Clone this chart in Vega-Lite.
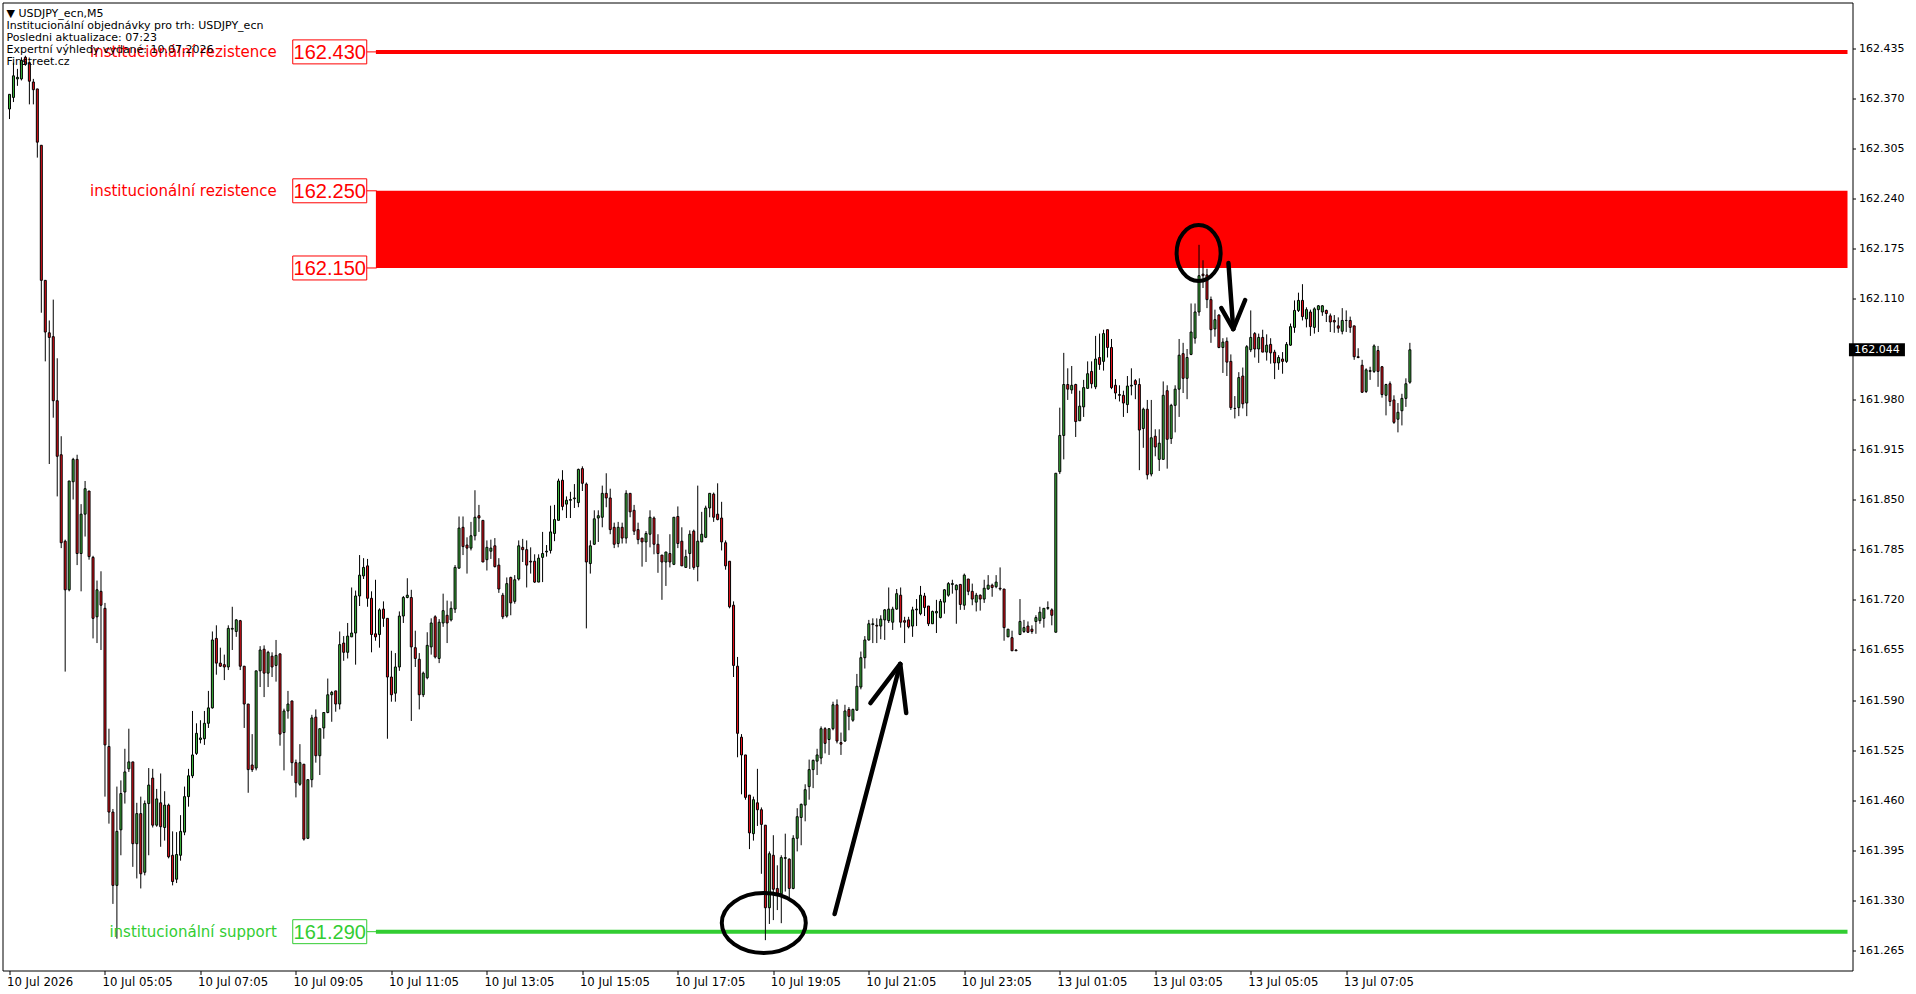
{
"$schema": "https://vega.github.io/schema/vega-lite/v6.json",
"autosize": {"type": "none"},
"width": 1850, "height": 968,
"padding": {"left": 2.5, "top": 2.5, "right": 63.5, "bottom": 23.5},
"background": "#ffffff",
"config": {"view": {"stroke": "#000000", "strokeWidth": 1}, "axis": {"grid": false, "domain": false, "tickColor": "#000000", "labelColor": "#000000"}},
"title": {"text": ["▼  USDJPY_ecn,M5", "Institucionální objednávky pro trh: USDJPY_ecn", "Posledni aktualizace: 07:23", "Expertní výhledy vydané: 10.07.2026", "Finstreet.cz"], "anchor": "start", "frame": "group", "orient": "top", "offset": -64, "baseline": "top", "dx": 4, "font": "DejaVu Sans", "fontSize": 11, "fontWeight": "normal", "color": "#000000", "lineHeight": 12},
"datasets": {
"candles": [
{"i":0,"o":162.356,"h":162.375,"l":162.343,"c":162.375},
{"i":1,"o":162.371,"h":162.416,"l":162.365,"c":162.399},
{"i":2,"o":162.395,"h":162.408,"l":162.386,"c":162.397},
{"i":3,"o":162.395,"h":162.423,"l":162.393,"c":162.419},
{"i":4,"o":162.423,"h":162.425,"l":162.412,"c":162.414},
{"i":5,"o":162.416,"h":162.417,"l":162.362,"c":162.392},
{"i":6,"o":162.391,"h":162.395,"l":162.362,"c":162.381},
{"i":7,"o":162.382,"h":162.382,"l":162.293,"c":162.313},
{"i":8,"o":162.309,"h":162.309,"l":162.092,"c":162.134},
{"i":9,"o":162.134,"h":162.134,"l":162.029,"c":162.067},
{"i":10,"o":162.066,"h":162.082,"l":161.896,"c":162.060},
{"i":11,"o":162.061,"h":162.109,"l":161.956,"c":161.978},
{"i":12,"o":161.978,"h":162.033,"l":161.854,"c":161.906},
{"i":13,"o":161.908,"h":161.932,"l":161.787,"c":161.794},
{"i":14,"o":161.796,"h":161.798,"l":161.627,"c":161.733},
{"i":15,"o":161.733,"h":161.874,"l":161.731,"c":161.874},
{"i":16,"o":161.873,"h":161.904,"l":161.850,"c":161.902},
{"i":17,"o":161.902,"h":161.908,"l":161.765,"c":161.780},
{"i":18,"o":161.780,"h":161.844,"l":161.731,"c":161.831},
{"i":19,"o":161.831,"h":161.874,"l":161.802,"c":161.864},
{"i":20,"o":161.861,"h":161.861,"l":161.772,"c":161.776},
{"i":21,"o":161.775,"h":161.777,"l":161.670,"c":161.696},
{"i":22,"o":161.698,"h":161.745,"l":161.664,"c":161.733},
{"i":23,"o":161.731,"h":161.757,"l":161.655,"c":161.713},
{"i":24,"o":161.709,"h":161.716,"l":161.465,"c":161.532},
{"i":25,"o":161.530,"h":161.553,"l":161.430,"c":161.445},
{"i":26,"o":161.445,"h":161.449,"l":161.326,"c":161.350},
{"i":27,"o":161.350,"h":161.478,"l":161.281,"c":161.420},
{"i":28,"o":161.422,"h":161.486,"l":161.389,"c":161.469},
{"i":29,"o":161.471,"h":161.527,"l":161.456,"c":161.497},
{"i":30,"o":161.501,"h":161.553,"l":161.497,"c":161.510},
{"i":31,"o":161.510,"h":161.510,"l":161.374,"c":161.404},
{"i":32,"o":161.404,"h":161.457,"l":161.359,"c":161.443},
{"i":33,"o":161.443,"h":161.465,"l":161.346,"c":161.365},
{"i":34,"o":161.367,"h":161.460,"l":161.363,"c":161.456},
{"i":35,"o":161.456,"h":161.502,"l":161.389,"c":161.480},
{"i":36,"o":161.489,"h":161.501,"l":161.425,"c":161.428},
{"i":37,"o":161.428,"h":161.475,"l":161.426,"c":161.462},
{"i":38,"o":161.457,"h":161.495,"l":161.400,"c":161.426},
{"i":39,"o":161.425,"h":161.472,"l":161.408,"c":161.454},
{"i":40,"o":161.454,"h":161.456,"l":161.385,"c":161.387},
{"i":41,"o":161.389,"h":161.420,"l":161.350,"c":161.355},
{"i":42,"o":161.358,"h":161.419,"l":161.353,"c":161.390},
{"i":43,"o":161.389,"h":161.441,"l":161.382,"c":161.420},
{"i":44,"o":161.419,"h":161.478,"l":161.415,"c":161.465},
{"i":45,"o":161.465,"h":161.501,"l":161.452,"c":161.492},
{"i":46,"o":161.492,"h":161.576,"l":161.489,"c":161.519},
{"i":47,"o":161.521,"h":161.560,"l":161.519,"c":161.547},
{"i":48,"o":161.539,"h":161.564,"l":161.534,"c":161.541},
{"i":49,"o":161.540,"h":161.576,"l":161.532,"c":161.560},
{"i":50,"o":161.560,"h":161.602,"l":161.554,"c":161.580},
{"i":51,"o":161.580,"h":161.679,"l":161.579,"c":161.668},
{"i":52,"o":161.670,"h":161.687,"l":161.623,"c":161.638},
{"i":53,"o":161.638,"h":161.658,"l":161.633,"c":161.634},
{"i":54,"o":161.636,"h":161.649,"l":161.616,"c":161.633},
{"i":55,"o":161.633,"h":161.687,"l":161.629,"c":161.683},
{"i":56,"o":161.682,"h":161.711,"l":161.655,"c":161.683},
{"i":57,"o":161.679,"h":161.695,"l":161.672,"c":161.694},
{"i":58,"o":161.693,"h":161.694,"l":161.629,"c":161.634},
{"i":59,"o":161.634,"h":161.634,"l":161.554,"c":161.585},
{"i":60,"o":161.585,"h":161.585,"l":161.470,"c":161.500},
{"i":61,"o":161.506,"h":161.546,"l":161.497,"c":161.500},
{"i":62,"o":161.502,"h":161.628,"l":161.499,"c":161.628},
{"i":63,"o":161.628,"h":161.660,"l":161.607,"c":161.655},
{"i":64,"o":161.656,"h":161.661,"l":161.594,"c":161.625},
{"i":65,"o":161.625,"h":161.654,"l":161.607,"c":161.652},
{"i":66,"o":161.647,"h":161.652,"l":161.620,"c":161.633},
{"i":67,"o":161.635,"h":161.668,"l":161.614,"c":161.648},
{"i":68,"o":161.650,"h":161.650,"l":161.531,"c":161.546},
{"i":69,"o":161.548,"h":161.579,"l":161.499,"c":161.576},
{"i":70,"o":161.576,"h":161.602,"l":161.566,"c":161.585},
{"i":71,"o":161.589,"h":161.589,"l":161.492,"c":161.509},
{"i":72,"o":161.509,"h":161.513,"l":161.464,"c":161.483},
{"i":73,"o":161.481,"h":161.533,"l":161.479,"c":161.509},
{"i":74,"o":161.507,"h":161.507,"l":161.408,"c":161.410},
{"i":75,"o":161.411,"h":161.487,"l":161.410,"c":161.487},
{"i":76,"o":161.487,"h":161.571,"l":161.477,"c":161.567},
{"i":77,"o":161.568,"h":161.578,"l":161.509,"c":161.518},
{"i":78,"o":161.518,"h":161.553,"l":161.493,"c":161.553},
{"i":79,"o":161.554,"h":161.574,"l":161.540,"c":161.574},
{"i":80,"o":161.574,"h":161.618,"l":161.573,"c":161.597},
{"i":81,"o":161.597,"h":161.602,"l":161.562,"c":161.600},
{"i":82,"o":161.602,"h":161.602,"l":161.575,"c":161.585},
{"i":83,"o":161.585,"h":161.679,"l":161.578,"c":161.662},
{"i":84,"o":161.664,"h":161.673,"l":161.641,"c":161.652},
{"i":85,"o":161.652,"h":161.690,"l":161.644,"c":161.673},
{"i":86,"o":161.672,"h":161.736,"l":161.672,"c":161.677},
{"i":87,"o":161.677,"h":161.732,"l":161.636,"c":161.725},
{"i":88,"o":161.725,"h":161.778,"l":161.712,"c":161.752},
{"i":89,"o":161.751,"h":161.774,"l":161.747,"c":161.762},
{"i":90,"o":161.764,"h":161.773,"l":161.711,"c":161.722},
{"i":91,"o":161.722,"h":161.731,"l":161.652,"c":161.675},
{"i":92,"o":161.676,"h":161.746,"l":161.667,"c":161.672},
{"i":93,"o":161.675,"h":161.709,"l":161.658,"c":161.707},
{"i":94,"o":161.708,"h":161.718,"l":161.685,"c":161.696},
{"i":95,"o":161.696,"h":161.696,"l":161.540,"c":161.620},
{"i":96,"o":161.620,"h":161.654,"l":161.588,"c":161.597},
{"i":97,"o":161.599,"h":161.651,"l":161.588,"c":161.633},
{"i":98,"o":161.633,"h":161.705,"l":161.628,"c":161.699},
{"i":99,"o":161.699,"h":161.725,"l":161.690,"c":161.723},
{"i":100,"o":161.723,"h":161.748,"l":161.722,"c":161.726},
{"i":101,"o":161.723,"h":161.733,"l":161.563,"c":161.659},
{"i":102,"o":161.658,"h":161.680,"l":161.633,"c":161.644},
{"i":103,"o":161.643,"h":161.651,"l":161.578,"c":161.597},
{"i":104,"o":161.597,"h":161.627,"l":161.594,"c":161.625},
{"i":105,"o":161.619,"h":161.678,"l":161.617,"c":161.661},
{"i":106,"o":161.659,"h":161.696,"l":161.649,"c":161.690},
{"i":107,"o":161.698,"h":161.700,"l":161.644,"c":161.646},
{"i":108,"o":161.644,"h":161.695,"l":161.638,"c":161.691},
{"i":109,"o":161.690,"h":161.728,"l":161.685,"c":161.706},
{"i":110,"o":161.700,"h":161.719,"l":161.664,"c":161.690},
{"i":111,"o":161.694,"h":161.718,"l":161.692,"c":161.709},
{"i":112,"o":161.708,"h":161.765,"l":161.703,"c":161.762},
{"i":113,"o":161.761,"h":161.828,"l":161.761,"c":161.813},
{"i":114,"o":161.814,"h":161.828,"l":161.778,"c":161.789},
{"i":115,"o":161.791,"h":161.801,"l":161.754,"c":161.787},
{"i":116,"o":161.787,"h":161.821,"l":161.784,"c":161.803},
{"i":117,"o":161.803,"h":161.862,"l":161.797,"c":161.827},
{"i":118,"o":161.829,"h":161.843,"l":161.808,"c":161.826},
{"i":119,"o":161.823,"h":161.823,"l":161.769,"c":161.769},
{"i":120,"o":161.772,"h":161.797,"l":161.758,"c":161.788},
{"i":121,"o":161.783,"h":161.798,"l":161.773,"c":161.787},
{"i":122,"o":161.790,"h":161.800,"l":161.762,"c":161.763},
{"i":123,"o":161.765,"h":161.774,"l":161.729,"c":161.734},
{"i":124,"o":161.726,"h":161.729,"l":161.695,"c":161.698},
{"i":125,"o":161.699,"h":161.749,"l":161.697,"c":161.741},
{"i":126,"o":161.749,"h":161.750,"l":161.700,"c":161.716},
{"i":127,"o":161.718,"h":161.752,"l":161.715,"c":161.746},
{"i":128,"o":161.747,"h":161.797,"l":161.745,"c":161.790},
{"i":129,"o":161.788,"h":161.799,"l":161.769,"c":161.785},
{"i":130,"o":161.785,"h":161.797,"l":161.736,"c":161.765},
{"i":131,"o":161.770,"h":161.788,"l":161.754,"c":161.769},
{"i":132,"o":161.770,"h":161.779,"l":161.742,"c":161.743},
{"i":133,"o":161.743,"h":161.779,"l":161.743,"c":161.774},
{"i":134,"o":161.775,"h":161.808,"l":161.743,"c":161.780},
{"i":135,"o":161.782,"h":161.791,"l":161.776,"c":161.783},
{"i":136,"o":161.784,"h":161.842,"l":161.780,"c":161.808},
{"i":137,"o":161.806,"h":161.843,"l":161.796,"c":161.824},
{"i":138,"o":161.823,"h":161.877,"l":161.823,"c":161.874},
{"i":139,"o":161.875,"h":161.888,"l":161.836,"c":161.841},
{"i":140,"o":161.844,"h":161.854,"l":161.826,"c":161.849},
{"i":141,"o":161.849,"h":161.860,"l":161.826,"c":161.850},
{"i":142,"o":161.851,"h":161.870,"l":161.839,"c":161.852},
{"i":143,"o":161.846,"h":161.890,"l":161.840,"c":161.889},
{"i":144,"o":161.890,"h":161.893,"l":161.861,"c":161.871},
{"i":145,"o":161.870,"h":161.872,"l":161.683,"c":161.769},
{"i":146,"o":161.767,"h":161.797,"l":161.754,"c":161.790},
{"i":147,"o":161.792,"h":161.836,"l":161.791,"c":161.825},
{"i":148,"o":161.826,"h":161.836,"l":161.795,"c":161.829},
{"i":149,"o":161.827,"h":161.868,"l":161.814,"c":161.858},
{"i":150,"o":161.858,"h":161.884,"l":161.840,"c":161.852},
{"i":151,"o":161.852,"h":161.864,"l":161.805,"c":161.811},
{"i":152,"o":161.814,"h":161.820,"l":161.787,"c":161.792},
{"i":153,"o":161.793,"h":161.821,"l":161.788,"c":161.814},
{"i":154,"o":161.814,"h":161.820,"l":161.793,"c":161.800},
{"i":155,"o":161.800,"h":161.862,"l":161.793,"c":161.858},
{"i":156,"o":161.858,"h":161.858,"l":161.827,"c":161.834},
{"i":157,"o":161.836,"h":161.843,"l":161.804,"c":161.809},
{"i":158,"o":161.811,"h":161.820,"l":161.792,"c":161.798},
{"i":159,"o":161.800,"h":161.800,"l":161.763,"c":161.795},
{"i":160,"o":161.795,"h":161.809,"l":161.769,"c":161.806},
{"i":161,"o":161.805,"h":161.836,"l":161.788,"c":161.827},
{"i":162,"o":161.826,"h":161.828,"l":161.779,"c":161.792},
{"i":163,"o":161.792,"h":161.805,"l":161.755,"c":161.780},
{"i":164,"o":161.778,"h":161.778,"l":161.720,"c":161.769},
{"i":165,"o":161.769,"h":161.782,"l":161.738,"c":161.782},
{"i":166,"o":161.780,"h":161.805,"l":161.762,"c":161.769},
{"i":167,"o":161.766,"h":161.827,"l":161.765,"c":161.827},
{"i":168,"o":161.828,"h":161.841,"l":161.787,"c":161.793},
{"i":169,"o":161.796,"h":161.814,"l":161.764,"c":161.764},
{"i":170,"o":161.762,"h":161.785,"l":161.762,"c":161.776},
{"i":171,"o":161.780,"h":161.810,"l":161.760,"c":161.805},
{"i":172,"o":161.809,"h":161.811,"l":161.759,"c":161.762},
{"i":173,"o":161.763,"h":161.868,"l":161.744,"c":161.796},
{"i":174,"o":161.795,"h":161.834,"l":161.795,"c":161.805},
{"i":175,"o":161.801,"h":161.842,"l":161.800,"c":161.839},
{"i":176,"o":161.839,"h":161.858,"l":161.827,"c":161.858},
{"i":177,"o":161.857,"h":161.859,"l":161.821,"c":161.827},
{"i":178,"o":161.831,"h":161.871,"l":161.823,"c":161.824},
{"i":179,"o":161.826,"h":161.847,"l":161.784,"c":161.795},
{"i":180,"o":161.794,"h":161.797,"l":161.759,"c":161.764},
{"i":181,"o":161.770,"h":161.770,"l":161.709,"c":161.711},
{"i":182,"o":161.713,"h":161.718,"l":161.620,"c":161.635},
{"i":183,"o":161.634,"h":161.646,"l":161.516,"c":161.547},
{"i":184,"o":161.542,"h":161.546,"l":161.468,"c":161.519},
{"i":185,"o":161.519,"h":161.519,"l":161.461,"c":161.464},
{"i":186,"o":161.467,"h":161.467,"l":161.397,"c":161.418},
{"i":187,"o":161.417,"h":161.465,"l":161.408,"c":161.461},
{"i":188,"o":161.457,"h":161.501,"l":161.427,"c":161.448},
{"i":189,"o":161.448,"h":161.451,"l":161.365,"c":161.429},
{"i":190,"o":161.428,"h":161.428,"l":161.279,"c":161.321},
{"i":191,"o":161.321,"h":161.394,"l":161.300,"c":161.391},
{"i":192,"o":161.389,"h":161.415,"l":161.305,"c":161.345},
{"i":193,"o":161.346,"h":161.376,"l":161.318,"c":161.340},
{"i":194,"o":161.339,"h":161.389,"l":161.301,"c":161.386},
{"i":195,"o":161.385,"h":161.417,"l":161.342,"c":161.386},
{"i":196,"o":161.384,"h":161.385,"l":161.333,"c":161.346},
{"i":197,"o":161.346,"h":161.415,"l":161.345,"c":161.411},
{"i":198,"o":161.411,"h":161.450,"l":161.394,"c":161.439},
{"i":199,"o":161.438,"h":161.456,"l":161.402,"c":161.455},
{"i":200,"o":161.454,"h":161.481,"l":161.433,"c":161.474},
{"i":201,"o":161.478,"h":161.513,"l":161.461,"c":161.500},
{"i":202,"o":161.500,"h":161.513,"l":161.476,"c":161.512},
{"i":203,"o":161.511,"h":161.527,"l":161.493,"c":161.519},
{"i":204,"o":161.515,"h":161.556,"l":161.507,"c":161.553},
{"i":205,"o":161.553,"h":161.555,"l":161.521,"c":161.534},
{"i":206,"o":161.539,"h":161.553,"l":161.519,"c":161.553},
{"i":207,"o":161.553,"h":161.588,"l":161.551,"c":161.584},
{"i":208,"o":161.584,"h":161.591,"l":161.534,"c":161.537},
{"i":209,"o":161.535,"h":161.548,"l":161.519,"c":161.533},
{"i":210,"o":161.537,"h":161.584,"l":161.536,"c":161.576},
{"i":211,"o":161.578,"h":161.581,"l":161.551,"c":161.569},
{"i":212,"o":161.564,"h":161.579,"l":161.562,"c":161.578},
{"i":213,"o":161.577,"h":161.624,"l":161.576,"c":161.608},
{"i":214,"o":161.607,"h":161.653,"l":161.604,"c":161.645},
{"i":215,"o":161.645,"h":161.673,"l":161.631,"c":161.668},
{"i":216,"o":161.668,"h":161.694,"l":161.667,"c":161.689},
{"i":217,"o":161.688,"h":161.696,"l":161.664,"c":161.689},
{"i":218,"o":161.687,"h":161.696,"l":161.664,"c":161.686},
{"i":219,"o":161.686,"h":161.700,"l":161.669,"c":161.695},
{"i":220,"o":161.694,"h":161.708,"l":161.668,"c":161.707},
{"i":221,"o":161.693,"h":161.736,"l":161.690,"c":161.708},
{"i":222,"o":161.691,"h":161.711,"l":161.681,"c":161.708},
{"i":223,"o":161.708,"h":161.734,"l":161.707,"c":161.728},
{"i":224,"o":161.726,"h":161.736,"l":161.684,"c":161.691},
{"i":225,"o":161.693,"h":161.698,"l":161.664,"c":161.691},
{"i":226,"o":161.694,"h":161.698,"l":161.683,"c":161.685},
{"i":227,"o":161.686,"h":161.711,"l":161.672,"c":161.707},
{"i":228,"o":161.707,"h":161.721,"l":161.686,"c":161.708},
{"i":229,"o":161.702,"h":161.738,"l":161.700,"c":161.726},
{"i":230,"o":161.725,"h":161.729,"l":161.699,"c":161.710},
{"i":231,"o":161.712,"h":161.712,"l":161.686,"c":161.689},
{"i":232,"o":161.689,"h":161.706,"l":161.689,"c":161.705},
{"i":233,"o":161.703,"h":161.720,"l":161.677,"c":161.705},
{"i":234,"o":161.697,"h":161.721,"l":161.696,"c":161.718},
{"i":235,"o":161.717,"h":161.734,"l":161.702,"c":161.733},
{"i":236,"o":161.726,"h":161.743,"l":161.724,"c":161.741},
{"i":237,"o":161.740,"h":161.746,"l":161.728,"c":161.741},
{"i":238,"o":161.733,"h":161.740,"l":161.689,"c":161.739},
{"i":239,"o":161.740,"h":161.740,"l":161.707,"c":161.714},
{"i":240,"o":161.713,"h":161.754,"l":161.707,"c":161.752},
{"i":241,"o":161.747,"h":161.747,"l":161.726,"c":161.731},
{"i":242,"o":161.731,"h":161.741,"l":161.713,"c":161.721},
{"i":243,"o":161.717,"h":161.729,"l":161.705,"c":161.726},
{"i":244,"o":161.726,"h":161.727,"l":161.706,"c":161.721},
{"i":245,"o":161.721,"h":161.746,"l":161.716,"c":161.735},
{"i":246,"o":161.734,"h":161.752,"l":161.733,"c":161.739},
{"i":247,"o":161.739,"h":161.741,"l":161.724,"c":161.736},
{"i":248,"o":161.737,"h":161.752,"l":161.735,"c":161.743},
{"i":249,"o":161.735,"h":161.762,"l":161.732,"c":161.734},
{"i":250,"o":161.734,"h":161.734,"l":161.667,"c":161.684},
{"i":251,"o":161.672,"h":161.682,"l":161.672,"c":161.682},
{"i":252,"o":161.671,"h":161.680,"l":161.654,"c":161.654},
{"i":253,"o":161.655,"h":161.656,"l":161.654,"c":161.654},
{"i":254,"o":161.675,"h":161.721,"l":161.675,"c":161.692},
{"i":255,"o":161.679,"h":161.694,"l":161.677,"c":161.684},
{"i":256,"o":161.686,"h":161.692,"l":161.677,"c":161.678},
{"i":257,"o":161.682,"h":161.687,"l":161.676,"c":161.679},
{"i":258,"o":161.692,"h":161.700,"l":161.676,"c":161.697},
{"i":259,"o":161.693,"h":161.711,"l":161.689,"c":161.704},
{"i":260,"o":161.696,"h":161.709,"l":161.684,"c":161.709},
{"i":261,"o":161.709,"h":161.718,"l":161.707,"c":161.710},
{"i":262,"o":161.707,"h":161.709,"l":161.687,"c":161.700},
{"i":263,"o":161.678,"h":161.884,"l":161.678,"c":161.884},
{"i":264,"o":161.886,"h":161.969,"l":161.883,"c":161.933},
{"i":265,"o":161.933,"h":162.040,"l":161.902,"c":161.999},
{"i":266,"o":161.999,"h":162.020,"l":161.979,"c":161.993},
{"i":267,"o":161.992,"h":162.023,"l":161.987,"c":161.998},
{"i":268,"o":161.999,"h":162.000,"l":161.931,"c":161.951},
{"i":269,"o":161.952,"h":161.991,"l":161.952,"c":161.971},
{"i":270,"o":161.970,"h":162.005,"l":161.957,"c":161.995},
{"i":271,"o":161.994,"h":162.029,"l":161.994,"c":162.013},
{"i":272,"o":162.016,"h":162.029,"l":161.994,"c":162.000},
{"i":273,"o":161.996,"h":162.062,"l":161.993,"c":162.032},
{"i":274,"o":162.034,"h":162.065,"l":162.018,"c":162.025},
{"i":275,"o":162.029,"h":162.070,"l":162.017,"c":162.065},
{"i":276,"o":162.070,"h":162.070,"l":162.034,"c":162.047},
{"i":277,"o":162.047,"h":162.058,"l":161.993,"c":161.995},
{"i":278,"o":161.998,"h":162.006,"l":161.980,"c":161.988},
{"i":279,"o":161.986,"h":161.998,"l":161.977,"c":161.985},
{"i":280,"o":161.985,"h":161.991,"l":161.957,"c":161.975},
{"i":281,"o":161.973,"h":162.010,"l":161.962,"c":161.997},
{"i":282,"o":161.997,"h":162.020,"l":161.985,"c":161.998},
{"i":283,"o":162.004,"h":162.006,"l":161.980,"c":161.999},
{"i":284,"o":161.999,"h":162.007,"l":161.888,"c":161.940},
{"i":285,"o":161.942,"h":161.969,"l":161.917,"c":161.967},
{"i":286,"o":161.967,"h":161.979,"l":161.876,"c":161.882},
{"i":287,"o":161.883,"h":161.979,"l":161.880,"c":161.930},
{"i":288,"o":161.932,"h":161.941,"l":161.906,"c":161.918},
{"i":289,"o":161.902,"h":161.941,"l":161.887,"c":161.923},
{"i":290,"o":161.902,"h":162.003,"l":161.902,"c":161.985},
{"i":291,"o":161.991,"h":161.998,"l":161.890,"c":161.928},
{"i":292,"o":161.929,"h":161.974,"l":161.922,"c":161.972},
{"i":293,"o":161.972,"h":161.998,"l":161.937,"c":161.993},
{"i":294,"o":161.993,"h":162.058,"l":161.957,"c":162.037},
{"i":295,"o":162.039,"h":162.053,"l":161.988,"c":162.007},
{"i":296,"o":162.007,"h":162.045,"l":161.980,"c":162.034},
{"i":297,"o":162.038,"h":162.104,"l":162.037,"c":162.067},
{"i":298,"o":162.059,"h":162.104,"l":162.052,"c":162.093},
{"i":299,"o":162.093,"h":162.180,"l":162.088,"c":162.140},
{"i":300,"o":162.142,"h":162.160,"l":162.124,"c":162.140},
{"i":301,"o":162.141,"h":162.149,"l":162.098,"c":162.109},
{"i":302,"o":162.109,"h":162.113,"l":162.053,"c":162.070},
{"i":303,"o":162.071,"h":162.096,"l":162.061,"c":162.083},
{"i":304,"o":162.089,"h":162.090,"l":162.046,"c":162.047},
{"i":305,"o":162.047,"h":162.059,"l":162.014,"c":162.054},
{"i":306,"o":162.055,"h":162.060,"l":162.010,"c":162.028},
{"i":307,"o":162.029,"h":162.038,"l":161.966,"c":161.969},
{"i":308,"o":161.968,"h":161.984,"l":161.955,"c":161.968},
{"i":309,"o":161.969,"h":162.015,"l":161.958,"c":162.008},
{"i":310,"o":162.010,"h":162.021,"l":161.968,"c":161.974},
{"i":311,"o":161.975,"h":162.050,"l":161.958,"c":162.048},
{"i":312,"o":162.044,"h":162.095,"l":162.041,"c":162.060},
{"i":313,"o":162.065,"h":162.067,"l":162.034,"c":162.045},
{"i":314,"o":162.045,"h":162.065,"l":162.027,"c":162.060},
{"i":315,"o":162.060,"h":162.070,"l":162.041,"c":162.041},
{"i":316,"o":162.041,"h":162.064,"l":162.030,"c":162.050},
{"i":317,"o":162.051,"h":162.059,"l":162.026,"c":162.040},
{"i":318,"o":162.041,"h":162.044,"l":162.006,"c":162.027},
{"i":319,"o":162.027,"h":162.037,"l":162.018,"c":162.034},
{"i":320,"o":162.032,"h":162.041,"l":162.013,"c":162.029},
{"i":321,"o":162.029,"h":162.054,"l":162.027,"c":162.051},
{"i":322,"o":162.050,"h":162.078,"l":162.049,"c":162.074},
{"i":323,"o":162.073,"h":162.108,"l":162.066,"c":162.095},
{"i":324,"o":162.095,"h":162.118,"l":162.093,"c":162.108},
{"i":325,"o":162.108,"h":162.129,"l":162.082,"c":162.087},
{"i":326,"o":162.084,"h":162.099,"l":162.073,"c":162.096},
{"i":327,"o":162.093,"h":162.096,"l":162.062,"c":162.074},
{"i":328,"o":162.073,"h":162.099,"l":162.065,"c":162.097},
{"i":329,"o":162.096,"h":162.102,"l":162.067,"c":162.101},
{"i":330,"o":162.093,"h":162.102,"l":162.088,"c":162.101},
{"i":331,"o":162.095,"h":162.096,"l":162.080,"c":162.091},
{"i":332,"o":162.088,"h":162.091,"l":162.067,"c":162.080},
{"i":333,"o":162.082,"h":162.089,"l":162.066,"c":162.080},
{"i":334,"o":162.075,"h":162.086,"l":162.066,"c":162.072},
{"i":335,"o":162.068,"h":162.098,"l":162.064,"c":162.082},
{"i":336,"o":162.082,"h":162.095,"l":162.067,"c":162.082},
{"i":337,"o":162.082,"h":162.087,"l":162.066,"c":162.073},
{"i":338,"o":162.075,"h":162.075,"l":162.031,"c":162.035},
{"i":339,"o":162.035,"h":162.046,"l":162.033,"c":162.034},
{"i":340,"o":162.024,"h":162.031,"l":161.988,"c":161.989},
{"i":341,"o":161.990,"h":162.020,"l":161.988,"c":162.018},
{"i":342,"o":162.017,"h":162.022,"l":162.005,"c":162.016},
{"i":343,"o":162.016,"h":162.051,"l":162.014,"c":162.049},
{"i":344,"o":162.043,"h":162.049,"l":161.996,"c":162.016},
{"i":345,"o":162.022,"h":162.023,"l":161.982,"c":161.986},
{"i":346,"o":161.985,"h":162.000,"l":161.959,"c":161.999},
{"i":347,"o":162.000,"h":162.003,"l":161.971,"c":161.977},
{"i":348,"o":161.979,"h":161.985,"l":161.948,"c":161.950},
{"i":349,"o":161.954,"h":161.975,"l":161.937,"c":161.963},
{"i":350,"o":161.965,"h":161.987,"l":161.946,"c":161.981},
{"i":351,"o":161.981,"h":162.007,"l":161.970,"c":162.000},
{"i":352,"o":162.002,"h":162.053,"l":162.000,"c":162.044}
],
"levels": [
{"p":162.43,"name":"institucionální rezistence","lab":"162.430","typ":"rezistence"},
{"p":162.25,"name":"institucionální rezistence","lab":"162.250","typ":"rezistence"},
{"p":162.15,"name":"","lab":"162.150","typ":"rezistence"},
{"p":161.29,"name":"institucionální support","lab":"161.290","typ":"support"}
],
"lines": [
{"p":162.43,"typ":"rezistence"},
{"p":161.29,"typ":"support"}
],
"zone": [{"lo":162.15,"hi":162.25}],
"arrows": [
{"i":207.4,"p":161.3129,"i2":223.9,"p2":161.6369},
{"i":223.9,"p":161.6369,"i2":216.4,"p2":161.5863},
{"i":223.9,"p":161.6369,"i2":225.4,"p2":161.5734},
{"i":306.4,"p":162.1564,"i2":307.6,"p2":162.0709},
{"i":307.6,"p":162.0709,"i2":304.6,"p2":162.0981},
{"i":307.6,"p":162.0709,"i2":310.6,"p2":162.1085}
],
"last": [{"i":469.4,"p":162.044,"lab":"162.044"}]
},
"layer": [
{"data": {"name": "zone"}, "mark": {"type": "rect", "color": "#FF0000"},
 "encoding": {
  "x": {"datum": 92.1, "type": "quantitative", "scale": {"domain": [-0.5, 462], "nice": false, "zero": false},
   "axis": {"orient": "bottom", "title": null, "values": [0,24,48,72,96,120,144,168,192,216,240,264,288,312,336],
    "labelExpr": "['10 Jul 2026','10 Jul 05:05','10 Jul 07:05','10 Jul 09:05','10 Jul 11:05','10 Jul 13:05','10 Jul 15:05','10 Jul 17:05','10 Jul 19:05','10 Jul 21:05','10 Jul 23:05','13 Jul 01:05','13 Jul 03:05','13 Jul 05:05','13 Jul 07:05'][round(datum.value/24)]",
    "labelAlign": "left", "labelBaseline": "top", "labelPadding": 1, "labelOffset": -3, "tickSize": 4, "labelFlush": false, "labelOverlap": false,
    "labelFont": "Liberation Sans Narrow, DejaVu Sans Condensed, sans-serif", "labelFontSize": 13, "labelColor": "#000000", "tickColor": "#000000", "domain": false, "grid": false, "labelBound": false}},
  "x2": {"datum": 462},
  "y": {"field": "lo", "type": "quantitative", "scale": {"domain": [161.2397, 162.494], "nice": false, "zero": false},
   "axis": {"orient": "right", "title": null, "values": [161.265,161.33,161.395,161.46,161.525,161.59,161.655,161.72,161.785,161.85,161.915,161.98,162.11,162.175,162.24,162.305,162.37,162.435],
    "format": ".3f", "labelFont": "DejaVu Sans", "labelFontSize": 11, "labelColor": "#000000", "tickColor": "#000000", "tickSize": 3, "labelPadding": 3, "domain": false, "grid": false, "labelBaseline": "middle"}},
  "y2": {"field": "hi"}
 }},
{"data": {"name": "lines"}, "mark": {"type": "rule", "strokeWidth": 4},
 "encoding": {
  "x": {"datum": 92.1, "type": "quantitative", "scale": {"domain": [-0.5, 462], "nice": false, "zero": false}},
  "x2": {"datum": 462},
  "y": {"field": "p", "type": "quantitative", "scale": {"domain": [161.2397, 162.494], "nice": false, "zero": false}},
  "color": {"field": "typ", "type": "nominal", "scale": {"domain": ["rezistence", "support"], "range": ["#FF0000", "#32CD32"]}, "legend": null}
 }},
{"data": {"name": "levels"}, "mark": {"type": "rule", "strokeWidth": 1},
 "encoding": {
  "x": {"datum": 89.8, "type": "quantitative", "scale": {"domain": [-0.5, 462], "nice": false, "zero": false}},
  "x2": {"datum": 92.3},
  "y": {"field": "p", "type": "quantitative", "scale": {"domain": [161.2397, 162.494], "nice": false, "zero": false}},
  "color": {"field": "typ", "type": "nominal", "scale": {"domain": ["rezistence", "support"], "range": ["#FF0000", "#32CD32"]}, "legend": null}
 }},
{"data": {"name": "candles"}, "mark": {"type": "rule", "strokeWidth": 1, "color": "#000000"},
 "encoding": {
  "x": {"field": "i", "type": "quantitative", "scale": {"domain": [-0.5, 462], "nice": false, "zero": false}},
  "y": {"field": "l", "type": "quantitative", "scale": {"domain": [161.2397, 162.494], "nice": false, "zero": false}},
  "y2": {"field": "h"}
 }},
{"data": {"name": "candles"}, "mark": {"type": "bar", "width": 2, "stroke": "#000000", "strokeWidth": 1},
 "encoding": {
  "x": {"field": "i", "type": "quantitative", "scale": {"domain": [-0.5, 462], "nice": false, "zero": false}},
  "y": {"field": "o", "type": "quantitative", "scale": {"domain": [161.2397, 162.494], "nice": false, "zero": false}},
  "y2": {"field": "c"},
  "fill": {"condition": {"test": "datum.c >= datum.o", "value": "#3CB43C"}, "value": "#E8101A"}
 }},
{"data": {"name": "levels"}, "mark": {"type": "text", "align": "right", "baseline": "middle", "font": "DejaVu Sans", "fontSize": 15},
 "encoding": {
  "x": {"datum": 67.2, "type": "quantitative", "scale": {"domain": [-0.5, 462], "nice": false, "zero": false}},
  "y": {"field": "p", "type": "quantitative", "scale": {"domain": [161.2397, 162.494], "nice": false, "zero": false}},
  "text": {"field": "name"},
  "color": {"field": "typ", "type": "nominal", "scale": {"domain": ["rezistence", "support"], "range": ["#FF0000", "#32CD32"]}, "legend": null}
 }},
{"data": {"name": "levels"}, "mark": {"type": "point", "shape": "M-1,-0.324H1V0.324H-1Z", "size": 5476, "filled": true, "fill": "#ffffff", "fillOpacity": 1, "strokeWidth": 1, "opacity": 1},
 "encoding": {
  "x": {"datum": 80.5, "type": "quantitative", "scale": {"domain": [-0.5, 462], "nice": false, "zero": false}},
  "y": {"field": "p", "type": "quantitative", "scale": {"domain": [161.2397, 162.494], "nice": false, "zero": false}},
  "stroke": {"field": "typ", "type": "nominal", "scale": {"domain": ["rezistence", "support"], "range": ["#FF0000", "#32CD32"]}, "legend": null}
 }},
{"data": {"name": "levels"}, "mark": {"type": "text", "align": "center", "baseline": "middle", "font": "Liberation Sans", "fontSize": 20, "dy": 1},
 "encoding": {
  "x": {"datum": 80.5, "type": "quantitative", "scale": {"domain": [-0.5, 462], "nice": false, "zero": false}},
  "y": {"field": "p", "type": "quantitative", "scale": {"domain": [161.2397, 162.494], "nice": false, "zero": false}},
  "text": {"field": "lab"},
  "color": {"field": "typ", "type": "nominal", "scale": {"domain": ["rezistence", "support"], "range": ["#FF0000", "#32CD32"]}, "legend": null}
 }},
{"data": {"name": "arrows"}, "mark": {"type": "rule", "strokeWidth": 4.5, "strokeCap": "round", "color": "#000000"},
 "encoding": {
  "x": {"field": "i", "type": "quantitative", "scale": {"domain": [-0.5, 462], "nice": false, "zero": false}},
  "x2": {"field": "i2"},
  "y": {"field": "p", "type": "quantitative", "scale": {"domain": [161.2397, 162.494], "nice": false, "zero": false}},
  "y2": {"field": "p2"}
 }},
{"data": {"values": [{"i": 189.6, "p": 161.3013}]}, "mark": {"type": "point", "shape": "M-1,0A1,0.714,0,1,1,1,0A1,0.714,0,1,1,-1,0Z", "size": 7056, "filled": false, "stroke": "#000000", "strokeWidth": 4, "opacity": 1},
 "encoding": {
  "x": {"field": "i", "type": "quantitative", "scale": {"domain": [-0.5, 462], "nice": false, "zero": false}},
  "y": {"field": "p", "type": "quantitative", "scale": {"domain": [161.2397, 162.494], "nice": false, "zero": false}}
 }},
{"data": {"values": [{"i": 298.9, "p": 162.1694}]}, "mark": {"type": "point", "shape": "M-0.786,0A0.786,1,0,1,1,0.786,0A0.786,1,0,1,1,-0.786,0Z", "size": 3136, "filled": false, "stroke": "#000000", "strokeWidth": 4, "opacity": 1},
 "encoding": {
  "x": {"field": "i", "type": "quantitative", "scale": {"domain": [-0.5, 462], "nice": false, "zero": false}},
  "y": {"field": "p", "type": "quantitative", "scale": {"domain": [161.2397, 162.494], "nice": false, "zero": false}}
 }},
{"data": {"name": "last"}, "mark": {"type": "point", "shape": "M-1,-0.232H1V0.232H-1Z", "size": 3136, "filled": true, "fill": "#000000", "opacity": 1, "strokeWidth": 0},
 "encoding": {
  "x": {"field": "i", "type": "quantitative", "scale": {"domain": [-0.5, 462], "nice": false, "zero": false}},
  "y": {"field": "p", "type": "quantitative", "scale": {"domain": [161.2397, 162.494], "nice": false, "zero": false}}
 }},
{"data": {"name": "last"}, "mark": {"type": "text", "align": "center", "baseline": "middle", "font": "DejaVu Sans", "fontSize": 11, "color": "#ffffff"},
 "encoding": {
  "x": {"field": "i", "type": "quantitative", "scale": {"domain": [-0.5, 462], "nice": false, "zero": false}},
  "y": {"field": "p", "type": "quantitative", "scale": {"domain": [161.2397, 162.494], "nice": false, "zero": false}},
  "text": {"field": "lab"}
 }}
]
}
